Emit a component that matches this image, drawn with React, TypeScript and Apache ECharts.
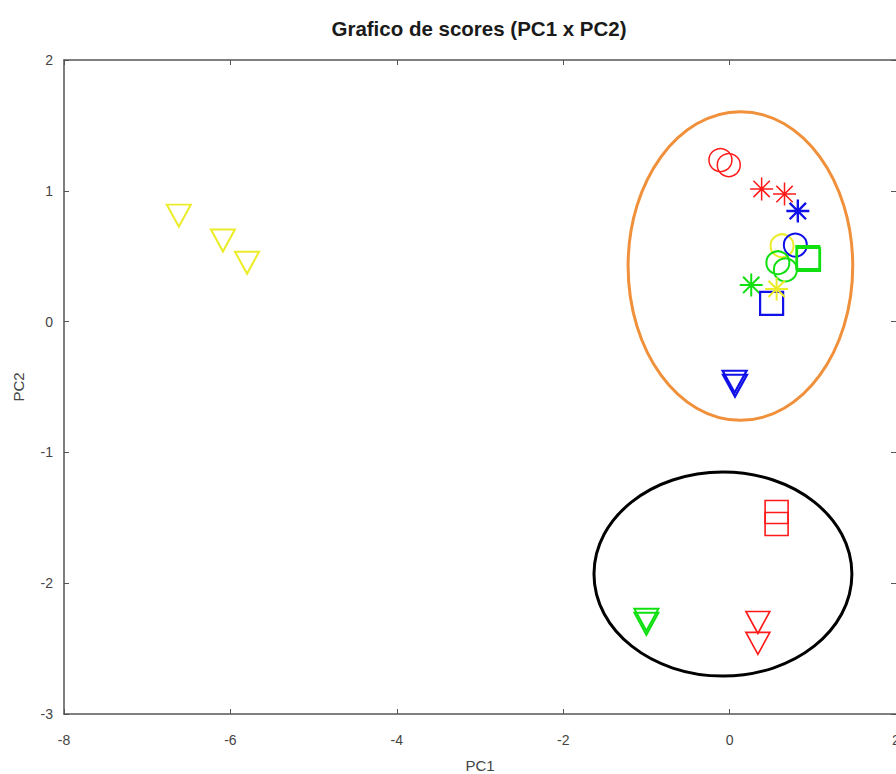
import React, { useEffect, useRef } from "react";
import * as echarts from "echarts";

// Score coordinates (PC1, PC2) per sample group
const yellowTriangles = [[-6.62, 0.81], [-6.09, 0.62], [-5.8, 0.45]];
const redCircles = [[-0.11, 1.235], [-0.01, 1.197]];
const redStars = [[0.385, 1.014], [0.66, 0.975]];
const blueStars = [[0.82, 0.845]];
const blueCircles = [[0.79, 0.585]];
const yellowCircles = [[0.63, 0.58]];
const greenSquares = [[0.94, 0.49], [0.95, 0.475]];
const greenCircles = [[0.58, 0.45], [0.67, 0.395]];
const greenStars = [[0.26, 0.28]];
const yellowStars = [[0.565, 0.25]];
const blueSquares = [[0.505, 0.14]];
const blueTriangles = [[0.06, -0.46], [0.065, -0.49]];
const redSquares = [[0.565, -1.456], [0.565, -1.547]];
const greenTriangles = [[-1.0, -2.28], [-1.0, -2.31]];
const redTriangles = [[0.34, -2.3], [0.34, -2.46]];

// Axis ranges and ticks
const xRange = [-8, 2];
const yRange = [-3, 2];
const xStep = 2;
const yStep = 1;

// Group outlines in data units: [cx, cy, rx, ry]
const orangeGroup = [0.13, 0.425, 1.35, 1.18];
const blackGroup = [-0.08, -1.93, 1.55, 0.78];

const RED = "#ff1a1a";
const BLUE = "#1010e8";
const GREEN = "#10e010";
const YELLOW = "#ecec2a";

const ASTERISK =
  "path://M10,0 L10,20 M0,10 L20,10 M2.9,2.9 L17.1,17.1 M2.9,17.1 L17.1,2.9";
const TRIANGLE_DOWN = "path://M0,0 L24,0 L12,22 Z";

const FONT = "'Liberation Sans', Arial, Helvetica, sans-serif";

function group(data: number[][], color: string, shape: string, width = 1.8, size: number | number[] = 23) {
  return {
    type: "scatter",
    data,
    symbol: shape,
    symbolSize: size,
    xAxisIndex: 0,
    yAxisIndex: 0,
    itemStyle: { color: "transparent", borderColor: color, borderWidth: width, opacity: 1 },
    emphasis: { disabled: true },
  };
}

export default function App() {
  const ref = useRef<HTMLDivElement>(null);

  useEffect(() => {
    if (!ref.current) return;
    const chart = echarts.init(ref.current, null, { renderer: "svg" });

    const xBase = {
      type: "value",
      min: xRange[0],
      max: xRange[1],
      interval: xStep,
      splitLine: { show: false },
    };
    const yBase = {
      type: "value",
      min: yRange[0],
      max: yRange[1],
      interval: yStep,
      splitLine: { show: false },
    };
    const tick = { show: true, inside: true, length: 5, lineStyle: { color: "#555" } };

    chart.setOption({
      animation: false,
      backgroundColor: "#ffffff",
      grid: {
        left: 64,
        top: 60,
        width: 832,
        height: 654,
        containLabel: false,
        outerBoundsMode: "none",
      },
      xAxis: [
        {
          ...xBase,
          position: "bottom",
          axisLine: { onZero: false, lineStyle: { color: "#555", width: 1.5 } },
          axisTick: tick,
          axisLabel: { color: "#444", fontSize: 14, fontFamily: FONT, margin: 19 },
          name: "PC1",
          nameLocation: "middle",
          nameGap: 44,
          nameTextStyle: { color: "#444", fontSize: 15, fontFamily: FONT },
        },
        {
          ...xBase,
          position: "top",
          axisLine: { onZero: false, lineStyle: { color: "#555", width: 1.5 } },
          axisTick: tick,
          axisLabel: { show: false },
        },
      ],
      yAxis: [
        {
          ...yBase,
          position: "left",
          axisLine: { show: true, onZero: false, lineStyle: { color: "#555", width: 1.5 } },
          axisTick: tick,
          axisLabel: { color: "#444", fontSize: 14, fontFamily: FONT, margin: 11 },
          name: "PC2",
          nameLocation: "middle",
          nameGap: 38,
          nameRotate: 90,
          nameTextStyle: { color: "#444", fontSize: 15, fontFamily: FONT },
        },
        {
          ...yBase,
          position: "right",
          axisLine: { show: true, onZero: false, lineStyle: { color: "#c8c8c8", width: 1 } },
          axisTick: tick,
          axisLabel: { show: false },
        },
      ],
      series: [
        group(yellowTriangles, YELLOW, TRIANGLE_DOWN, 2, [24, 22]),
        group(redCircles, RED, "circle", 1.5),
        group(redStars, RED, ASTERISK, 1.5),
        group(blueStars, BLUE, ASTERISK, 2.4),
        group(yellowCircles, YELLOW, "circle", 2),
        group(blueCircles, BLUE, "circle", 2),
        group(greenSquares, GREEN, "rect", 2),
        group(greenCircles, GREEN, "circle", 2),
        group(greenStars, GREEN, ASTERISK, 2),
        group(blueSquares, BLUE, "rect", 2.2),
        group(yellowStars, YELLOW, ASTERISK, 2),
        group(blueTriangles, BLUE, TRIANGLE_DOWN, 2.2, [24, 22]),
        group(redSquares, RED, "rect", 1.6),
        group(greenTriangles, GREEN, TRIANGLE_DOWN, 2, [24, 22]),
        group(redTriangles, RED, TRIANGLE_DOWN, 1.6, [24, 22]),
      ],
    });

    const outline = (g: number[], color: string) => {
      const c = chart.convertToPixel({ gridIndex: 0 }, [g[0], g[1]]) as number[];
      const e = chart.convertToPixel({ gridIndex: 0 }, [g[0] + g[2], g[1] + g[3]]) as number[];
      return {
        type: "ellipse",
        shape: { cx: c[0], cy: c[1], rx: Math.abs(e[0] - c[0]), ry: Math.abs(c[1] - e[1]) },
        style: { fill: "none", stroke: color, lineWidth: 3 },
        silent: true,
        z: 10,
      };
    };

    chart.setOption({
      graphic: [
        {
          type: "text",
          x: 479,
          y: 28,
          style: {
            text: "Grafico de scores (PC1 x PC2)",
            fontSize: 20.5,
            fontWeight: "bold",
            fontFamily: FONT,
            fill: "#1a1a1a",
            textAlign: "center",
            textVerticalAlign: "middle",
          },
        },
        outline(orangeGroup, "#f0903a"),
        outline(blackGroup, "#000000"),
      ],
    });

    return () => chart.dispose();
  }, []);

  return (
    <div
      ref={ref}
      style={{ position: "fixed", left: 0, top: 0, width: 896, height: 774, background: "#fff" }}
    />
  );
}
